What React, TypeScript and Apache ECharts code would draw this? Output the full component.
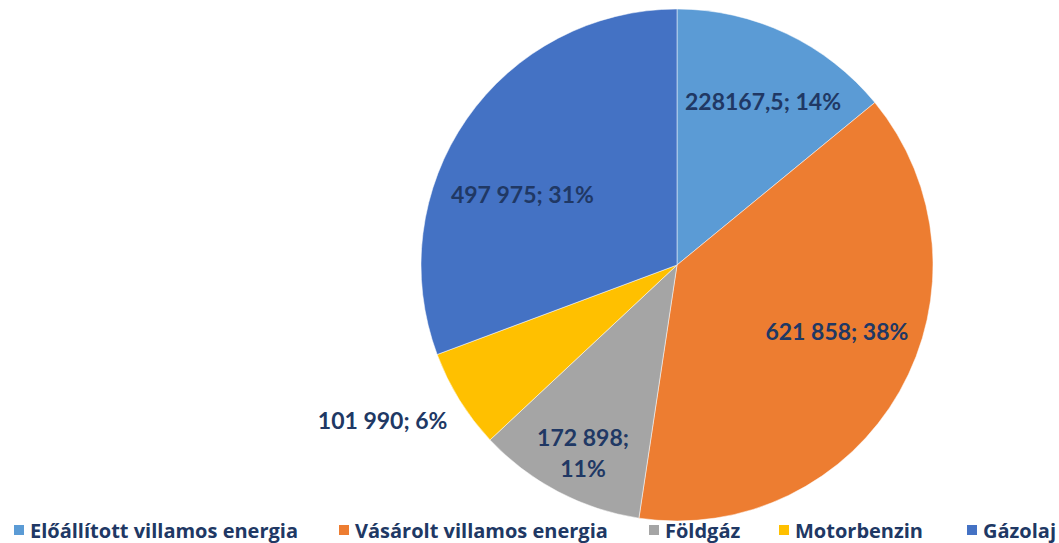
import React, { useEffect, useRef } from "react";
import * as echarts from "echarts";

const categories = [
  "Előállított villamos energia",
  "Vásárolt villamos energia",
  "Földgáz",
  "Motorbenzin",
  "Gázolaj",
];
const values = [228167.5, 621858, 172898, 101990, 497975];
const colors = ["#5B9BD5", "#ED7D31", "#A5A5A5", "#FFC000", "#4472C4"];
// label nudges relative to the default inside position
const labelShifts: [number, number][] = [
  [30, -46],
  [46, 1],
  [-33, 72],
  [-183, 86],
  [-47, 4],
];
// left edge of each legend entry
const legendLefts = [7, 332, 642, 772, 960];

const textColor = "#203864";
const labelFont = "Lato, 'Open Sans', sans-serif";
const legendFont = "'Open Sans', Lato, sans-serif";

function fmtValue(v: number): string {
  if (Number.isInteger(v)) {
    return String(v).replace(/\B(?=(\d{3})+(?!\d))/g, " ");
  }
  return String(v).replace(".", ",");
}

export default function App() {
  const ref = useRef<HTMLDivElement>(null);
  useEffect(() => {
    if (!ref.current) return;
    const chart = echarts.init(ref.current, undefined, { renderer: "svg" });
    const total = values.reduce((a, b) => a + b, 0);
    chart.setOption({
      animation: false,
      color: colors,
      legend: categories.map((name, i) => ({
        show: true,
        left: legendLefts[i],
        top: 514,
        itemWidth: 12,
        itemHeight: 12,
        itemGap: 6,
        icon: "rect",
        selectedMode: false,
        textStyle: {
          color: textColor,
          fontFamily: legendFont,
          fontWeight: "bold",
          fontSize: 20,
          lineHeight: 22,
        },
        data: [name],
      })),
      series: [
        {
          type: "pie",
          center: [677, 265],
          radius: 256,
          startAngle: 90,
          clockwise: true,
          data: categories.map((name, i) => ({ name, value: values[i] })),
          itemStyle: { borderColor: "#ffffff", borderWidth: 0.5 },
          label: {
            show: true,
            position: "inside",
            color: textColor,
            fontFamily: labelFont,
            fontWeight: "bold",
            fontSize: 23,
            lineHeight: 31,
            formatter: (p: any) => {
              const pct = Math.round((p.value / total) * 100);
              const sep = p.dataIndex === 2 ? ";\n" : "; ";
              return fmtValue(p.value) + sep + pct + "%";
            },
          },
          labelLine: { show: false },
          labelLayout: (params: any) => {
            const s = labelShifts[params.dataIndex];
            return { dx: s[0], dy: s[1] };
          },
          emphasis: { disabled: true },
        },
      ],
    });
    return () => chart.dispose();
  }, []);
  return (
    <div
      ref={ref}
      style={{ position: "absolute", left: 0, top: 0, width: 1059, height: 543 }}
    />
  );
}
